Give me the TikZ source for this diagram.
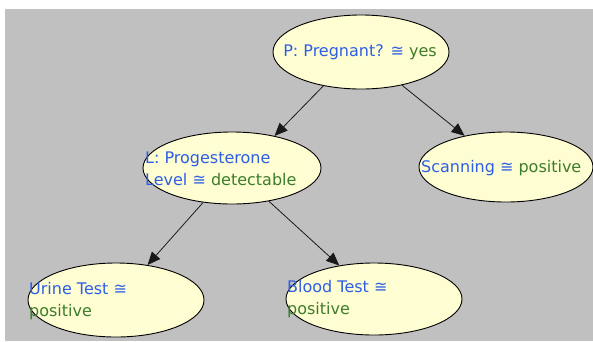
\documentclass[tikz,border=0pt]{standalone}
\usepackage{fontspec}
\setmainfont{DejaVu Sans}
\usetikzlibrary{shapes.geometric,arrows.meta}
\definecolor{canvas}{RGB}{192,192,192}
\definecolor{nodefill}{RGB}{255,253,210}
\definecolor{varblue}{RGB}{45,95,230}
\definecolor{valgreen}{RGB}{60,125,45}
\tikzset{
  varnode/.style={ellipse,draw=black,line width=0.9pt,fill=nodefill,inner sep=0pt},
  vtext/.style={inner sep=0pt,align=left,font=\fontsize{16}{22}\selectfont},
  arr/.style={draw=black!90,line width=0.8pt,-{Triangle[length=13pt,width=11pt]}},
}
\newcommand{\vn}[1]{\textcolor{varblue}{#1}}
\newcommand{\vv}[1]{\textcolor{valgreen}{#1}}
\begin{document}
\begin{tikzpicture}[x=1pt,y=-1pt]
  \useasboundingbox (0,0) rectangle (593,341);
  \fill[white] (0,0) rectangle (593,341);
  \fill[canvas] (5,9) rectangle (593,341);

  % belief network nodes
  \node[varnode,minimum width=176pt,minimum height=74pt] (P) at (361,52) {};
  \node[varnode,minimum width=178pt,minimum height=72pt] (L) at (232,168) {};
  \node[varnode,minimum width=174pt,minimum height=70pt] (S) at (506,167) {};
  \node[varnode,minimum width=176pt,minimum height=74pt] (U) at (116,300) {};
  \node[varnode,minimum width=176pt,minimum height=72pt] (B) at (374,299) {};

  % node labels: variable name and observed value
  \node[vtext] (Pt) at (360,52) {\vn{P: Pregnant? ≅} \vv{yes}};
  \node[vtext,anchor=west] (Lt) at (145,169) {\vn{L: Progesterone}\\\vn{Level ≅} \vv{detectable}};
  \node[vtext,anchor=west] (St) at (421,168) {\vn{Scanning ≅} \vv{positive}};
  \node[vtext,anchor=west] (Ut) at (29,301) {\vn{Urine Test ≅}\\\vv{positive}};
  \node[vtext,anchor=west] (Bt) at (287,299) {\vn{Blood Test ≅}\\\vv{positive}};

  % causal links
  \draw[arr] (P.222.6) -- (L.37.5);
  \draw[arr] (P.321.7) -- (S.143.3);
  \draw[arr] (L.230.2) -- (U.48.5);
  \draw[arr] (L.318.8) -- (B.136.6);
\end{tikzpicture}
\end{document}
